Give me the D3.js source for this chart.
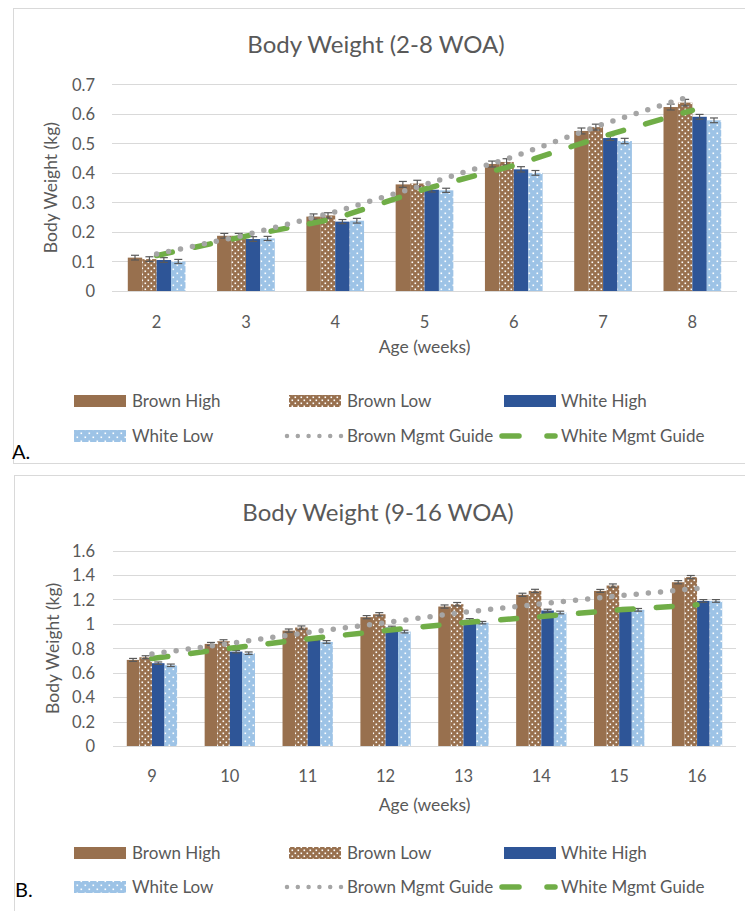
<!DOCTYPE html>
<html>
<head>
<meta charset="utf-8">
<script src="https://cdn.jsdelivr.net/npm/d3@7"></script>
<style>
  html, body { margin: 0; padding: 0; background: #fff; }
  svg { display: block; }
  text { font-family: Lato, "Open Sans", sans-serif; fill: #595959; }
</style>
</head>
<body>
<svg id="chart" width="745" height="911"></svg>
<script>
// ---------------- DATA ----------------
const seriesNames = ["Brown High", "Brown Low", "White High", "White Low"];
const guideNames = ["Brown Mgmt Guide", "White Mgmt Guide"];

// Panel A (2-8 WOA)
const weeksA = ["2", "3", "4", "5", "6", "7", "8"];
const brownHighA = [0.113, 0.187, 0.252, 0.361, 0.430, 0.542, 0.623];
const brownLowA  = [0.108, 0.187, 0.256, 0.364, 0.437, 0.555, 0.638];
const whiteHighA = [0.105, 0.176, 0.235, 0.343, 0.412, 0.518, 0.590];
const whiteLowA  = [0.100, 0.178, 0.238, 0.341, 0.400, 0.508, 0.578];
const brownHighErrA = [0.008, 0.008, 0.009, 0.010, 0.010, 0.010, 0.010];
const brownLowErrA  = [0.008, 0.008, 0.009, 0.011, 0.011, 0.010, 0.011];
const whiteHighErrA = [0.008, 0.008, 0.007, 0.008, 0.009, 0.008, 0.008];
const whiteLowErrA  = [0.007, 0.007, 0.008, 0.007, 0.008, 0.009, 0.008];
const brownGuideA = [0.125, 0.190, 0.268, 0.360, 0.455, 0.565, 0.662];
const whiteGuideA = [0.120, 0.186, 0.245, 0.345, 0.425, 0.524, 0.612];
const yTicksA = [0, 0.1, 0.2, 0.3, 0.4, 0.5, 0.6, 0.7];
const yTickLabelsA = ["0", "0.1", "0.2", "0.3", "0.4", "0.5", "0.6", "0.7"];

// Panel B (9-16 WOA)
const weeksB = ["9", "10", "11", "12", "13", "14", "15", "16"];
const brownHighB = [0.705, 0.836, 0.945, 1.055, 1.142, 1.238, 1.270, 1.341];
const brownLowB  = [0.727, 0.858, 0.970, 1.079, 1.161, 1.270, 1.314, 1.383];
const whiteHighB = [0.678, 0.773, 0.874, 0.970, 1.033, 1.109, 1.123, 1.188];
const whiteLowB  = [0.661, 0.760, 0.852, 0.937, 1.010, 1.093, 1.115, 1.188];
const brownHighErrB = [0.012, 0.012, 0.013, 0.013, 0.013, 0.013, 0.012, 0.013];
const brownLowErrB  = [0.012, 0.012, 0.013, 0.013, 0.014, 0.013, 0.013, 0.013];
const whiteHighErrB = [0.010, 0.010, 0.011, 0.011, 0.010, 0.011, 0.011, 0.011];
const whiteLowErrB  = [0.010, 0.010, 0.011, 0.011, 0.010, 0.011, 0.011, 0.011];
const brownGuideB = [0.754, 0.840, 0.930, 1.010, 1.095, 1.164, 1.230, 1.290];
const whiteGuideB = [0.716, 0.800, 0.877, 0.945, 1.010, 1.060, 1.115, 1.156];
const yTicksB = [0, 0.2, 0.4, 0.6, 0.8, 1.0, 1.2, 1.4, 1.6];
const yTickLabelsB = ["0", "0.2", "0.4", "0.6", "0.8", "1", "1.2", "1.4", "1.6"];

// ---------------- STYLE ----------------
const BROWN = "#98704E", BLUE = "#2E5597", LIGHTBLUE = "#9DC3E6";
const GRAY = "#A5A5A5", GREEN = "#70AD47", GRID = "#D9D9D9", TXT = "#595959";

const svg = d3.select("#chart");
const defs = svg.append("defs");

function dotPattern(id, bg, size, r) {
  const p = defs.append("pattern").attr("id", id).attr("patternUnits", "userSpaceOnUse")
    .attr("width", size).attr("height", size);
  p.append("rect").attr("width", size).attr("height", size).attr("fill", bg);
  p.append("rect").attr("x", 0.5).attr("y", 0.5).attr("width", r).attr("height", r).attr("fill", "#fff");
  p.append("rect").attr("x", size / 2 + 0.5).attr("y", size / 2 + 0.5).attr("width", r).attr("height", r).attr("fill", "#fff");
}
dotPattern("brownDots", BROWN, 6, 1.6);
dotPattern("blueDots", LIGHTBLUE, 8, 1.6);

const fills = [BROWN, "url(#brownDots)", BLUE, "url(#blueDots)"];

function drawPanel(cfg) {
  const g = svg.append("g");
  g.append("rect").attr("x", cfg.box[0]).attr("y", cfg.box[1])
    .attr("width", cfg.box[2]).attr("height", cfg.box[3])
    .attr("fill", "#fff").attr("stroke", GRID).attr("stroke-width", 1);

  g.append("text").attr("x", cfg.titleX).attr("y", cfg.titleY)
    .attr("text-anchor", "middle").attr("font-size", 24).text(cfg.title);

  const x = d3.scaleBand().domain(cfg.weeks).range([cfg.x0, cfg.x1])
    .paddingInner(2.19 / 6.19).paddingOuter(2.19 / 6.19 / 2);
  const xs = d3.scaleBand().domain(seriesNames).range([0, x.bandwidth()]).padding(0);
  const y = d3.scaleLinear().domain([0, cfg.yMax]).range([cfg.y0, cfg.yTop]);

  g.append("g").selectAll("line").data(cfg.yTicks).join("line")
    .attr("x1", cfg.x0).attr("x2", cfg.x1)
    .attr("y1", d => Math.round(y(d)) + 0.5).attr("y2", d => Math.round(y(d)) + 0.5)
    .attr("stroke", GRID).attr("stroke-width", 1);

  const yAxis = d3.axisLeft(y).tickValues(cfg.yTicks)
    .tickFormat((d, i) => cfg.yTickLabels[i]).tickSize(0).tickPadding(0);
  const ya = g.append("g").attr("transform", `translate(${cfg.yLabelX},0)`).call(yAxis);
  ya.select(".domain").remove();
  ya.selectAll("text").attr("font-size", 16.5).attr("font-family", "Lato, sans-serif")
    .attr("fill", TXT).attr("dy", "0.35em");

  const xAxis = d3.axisBottom(x).tickSize(0).tickPadding(0);
  const xa = g.append("g").attr("transform", `translate(0,${cfg.xLabelY})`).call(xAxis);
  xa.select(".domain").remove();
  xa.selectAll("text").attr("font-size", 16.5).attr("font-family", "Lato, sans-serif")
    .attr("fill", TXT).attr("dy", "0.35em");

  g.append("text").attr("x", (cfg.x0 + cfg.x1) / 2).attr("y", cfg.xTitleY)
    .attr("text-anchor", "middle").attr("dy", "0.35em").attr("font-size", 17.5).text("Age (weeks)");
  g.append("text")
    .attr("transform", `translate(${cfg.yTitleX},${(cfg.y0 + cfg.yTop) / 2}) rotate(-90)`)
    .attr("text-anchor", "middle").attr("dy", "0.35em").attr("font-size", 17.5).text("Body Weight (kg)");

  const bars = [];
  cfg.values.forEach((vals, si) => {
    vals.forEach((v, i) => bars.push({ s: seriesNames[si], si, w: cfg.weeks[i], v, e: cfg.errs[si][i] }));
  });
  g.append("g").selectAll("rect").data(bars).join("rect")
    .attr("x", d => x(d.w) + xs(d.s))
    .attr("width", xs.bandwidth())
    .attr("y", d => y(d.v))
    .attr("height", d => y(0) - y(d.v))
    .attr("fill", d => fills[d.si]);

  g.append("line").attr("x1", cfg.x0).attr("x2", cfg.x1)
    .attr("y1", Math.round(y(0)) + 0.5).attr("y2", Math.round(y(0)) + 0.5)
    .attr("stroke", GRID).attr("stroke-width", 1);

  const eb = g.append("g").attr("stroke", "#595959").attr("stroke-width", 1.2);
  bars.forEach(d => {
    const cx = x(d.w) + xs(d.s) + xs.bandwidth() / 2;
    const t = y(d.v + d.e), b = y(d.v - d.e);
    eb.append("line").attr("x1", cx).attr("x2", cx).attr("y1", t).attr("y2", b);
    eb.append("line").attr("x1", cx - 4).attr("x2", cx + 4).attr("y1", t).attr("y2", t);
    eb.append("line").attr("x1", cx - 4).attr("x2", cx + 4).attr("y1", b).attr("y2", b);
  });

  const line = d3.line().x((d, i) => x(cfg.weeks[i]) + x.bandwidth() / 2).y(d => y(d));
  g.append("path").datum(cfg.whiteGuide).attr("d", line).attr("fill", "none")
    .attr("stroke", GREEN).attr("stroke-width", 5.5).attr("stroke-linecap", "round")
    .attr("stroke-dasharray", "16 23");
  g.append("path").datum(cfg.brownGuide).attr("d", line).attr("fill", "none")
    .attr("stroke", GRAY).attr("stroke-width", 5.5).attr("stroke-linecap", "round")
    .attr("stroke-dasharray", "0 12.2");

  const lg = g.append("g");
  const row1 = cfg.legendY[0], row2 = cfg.legendY[1];
  const items = [
    { type: "bar", fill: fills[0], sx: 74, tx: 132, y: row1, label: seriesNames[0] },
    { type: "bar", fill: fills[1], sx: 289, tx: 347, y: row1, label: seriesNames[1] },
    { type: "bar", fill: fills[2], sx: 504, tx: 561, y: row1, label: seriesNames[2] },
    { type: "bar", fill: fills[3], sx: 74, tx: 132, y: row2, label: seriesNames[3] },
    { type: "dot", sx: 287, tx: 347, y: row2, label: guideNames[0] },
    { type: "dash", sx: 502, tx: 561, y: row2, label: guideNames[1] }
  ];
  items.forEach(it => {
    if (it.type === "bar") {
      lg.append("rect").attr("x", it.sx).attr("y", it.y - 6).attr("width", 52).attr("height", 12).attr("fill", it.fill);
    } else if (it.type === "dot") {
      lg.append("line").attr("x1", it.sx).attr("x2", it.sx + 55).attr("y1", it.y).attr("y2", it.y)
        .attr("stroke", GRAY).attr("stroke-width", 4.5).attr("stroke-linecap", "round").attr("stroke-dasharray", "0 10.8");
    } else {
      lg.append("line").attr("x1", it.sx).attr("x2", it.sx + 17).attr("y1", it.y).attr("y2", it.y)
        .attr("stroke", GREEN).attr("stroke-width", 5.5).attr("stroke-linecap", "round");
      lg.append("line").attr("x1", it.sx + 45).attr("x2", it.sx + 53).attr("y1", it.y).attr("y2", it.y)
        .attr("stroke", GREEN).attr("stroke-width", 5.5).attr("stroke-linecap", "round");
    }
    lg.append("text").attr("x", it.tx).attr("y", it.y).attr("dy", "0.35em").attr("font-size", 17).text(it.label);
  });

  g.append("text").attr("x", cfg.tag[0]).attr("y", cfg.tag[1]).attr("font-size", 20)
    .style("fill", "#000").text(cfg.tagText);
}

drawPanel({
  box: [13.5, 8.5, 760, 455], title: "Body Weight (2-8 WOA)", titleX: 376, titleY: 53,
  weeks: weeksA, x0: 112, x1: 737, y0: 291, yTop: 84.3, yMax: 0.7,
  yTicks: yTicksA, yTickLabels: yTickLabelsA, yLabelX: 95, xLabelY: 322, xTitleY: 347, yTitleX: 51,
  values: [brownHighA, brownLowA, whiteHighA, whiteLowA],
  errs: [brownHighErrA, brownLowErrA, whiteHighErrA, whiteLowErrA],
  brownGuide: brownGuideA, whiteGuide: whiteGuideA,
  legendY: [401, 436], tag: [12, 459], tagText: "A."
});

drawPanel({
  box: [14.5, 475.5, 760, 460], title: "Body Weight (9-16 WOA)", titleX: 378, titleY: 521,
  weeks: weeksB, x0: 113, x1: 736, y0: 746, yTop: 550.6, yMax: 1.6,
  yTicks: yTicksB, yTickLabels: yTickLabelsB, yLabelX: 95, xLabelY: 776, xTitleY: 805, yTitleX: 53,
  values: [brownHighB, brownLowB, whiteHighB, whiteLowB],
  errs: [brownHighErrB, brownLowErrB, whiteHighErrB, whiteLowErrB],
  brownGuide: brownGuideB, whiteGuide: whiteGuideB,
  legendY: [853, 887], tag: [15, 897], tagText: "B."
});
</script>
</body>
</html>
